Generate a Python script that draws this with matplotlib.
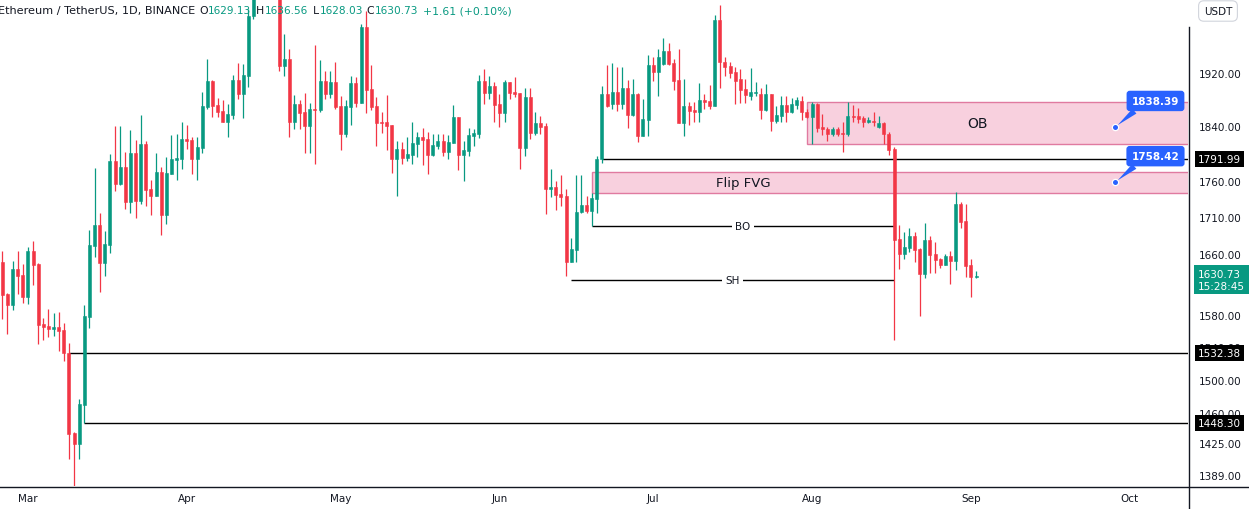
import numpy as np
import pandas as pd
import matplotlib
matplotlib.use("Agg")
import matplotlib.pyplot as plt
from matplotlib.patches import Rectangle
from matplotlib.lines import Line2D
from matplotlib.ticker import NullLocator
from matplotlib.transforms import blended_transform_factory, offset_copy

W, H = 1249, 510
UP = "#089981"
DOWN = "#f23645"
TXT = "#131722"
BLUE = "#2962ff"

# daily candles, ETH/USDT 1D
dates = pd.date_range("2023-02-24", periods=191, freq="D")

opens = [1649.0, 1607.1, 1592.9, 1639.8, 1632.2, 1603.6, 1663.7, 1646.4, 1568.8, 1566.2,
         1562.4, 1564.9, 1561.2, 1532.4, 1436.9, 1424.6, 1470.1, 1578.0, 1670.8, 1698.9,
         1648.1, 1672.1, 1788.7, 1756.4, 1780.1, 1731.1, 1800.3, 1732.5, 1813.4, 1748.8,
         1739.5, 1772.9, 1713.0, 1770.5, 1790.6, 1791.6, 1820.7, 1819.2, 1791.6, 1807.5,
         1868.2, 1907.7, 1871.2, 1862.2, 1845.8, 1856.2, 1909.3, 1887.9, 1915.4, 2010.2,
         2095.0, 2092.0, 2120.0, 2075.0, 2100.0, 1931.3, 1941.8, 1845.8, 1872.7, 1860.7,
         1839.9, 1865.7, 1863.7, 1907.7, 1887.9, 1906.2, 1869.7, 1828.0, 1868.2, 1904.7,
         1874.2, 1992.5, 1895.5, 1869.7, 1845.8, 1845.8, 1840.6, 1791.6, 1806.1, 1793.0,
         1797.4, 1813.4, 1823.6, 1820.7, 1797.4, 1810.5, 1817.8, 1801.7, 1814.8, 1853.2,
         1797.4, 1803.2, 1825.1, 1828.0, 1907.7, 1889.4, 1900.1, 1872.7, 1859.2, 1906.2,
         1890.9, 1889.4, 1807.5, 1883.3, 1829.5, 1844.3, 1839.9, 1748.8, 1751.7, 1741.8,
         1739.0, 1649.0, 1665.0, 1716.8, 1726.5, 1718.2, 1734.8, 1791.99, 1887.9, 1872.7,
         1890.9, 1872.7, 1897.0, 1856.2, 1887.9, 1825.1, 1848.8, 1932.5, 1921.6, 1934.0,
         1954.4, 1935.6, 1909.3, 1844.3, 1869.7, 1863.7, 1860.7, 1878.8, 1877.3, 1869.7,
         2003.7, 1937.1, 1930.9, 1921.6, 1910.8, 1895.5, 1884.9, 1889.4, 1887.9, 1863.7,
         1887.9, 1847.3, 1854.7, 1871.2, 1860.7, 1871.2, 1877.3, 1860.7, 1853.2, 1872.7,
         1838.4, 1835.4, 1828.0, 1835.4, 1829.5, 1828.0, 1854.7, 1854.7, 1851.7, 1845.8,
         1847.3, 1838.4, 1844.3, 1828.0, 1806.1, 1679.8, 1659.7, 1667.7, 1684.3, 1666.4,
         1633.2, 1678.9, 1659.7, 1653.0, 1645.4, 1657.4, 1650.7, 1727.9, 1704.8, 1645.0,
         1629.13]

highs = [1663.7, 1608.8, 1650.3, 1663.7, 1646.4, 1669.0, 1677.1, 1648.1, 1576.4, 1587.8,
         1582.7, 1583.9, 1570.0, 1544.9, 1438.1, 1476.8, 1592.9, 1692.1, 1778.6, 1715.4,
         1691.1, 1798.8, 1839.9, 1839.9, 1801.7, 1833.9, 1819.2, 1856.2, 1817.8, 1761.6,
         1800.3, 1780.1, 1794.5, 1826.6, 1828.0, 1845.8, 1841.3, 1823.6, 1823.6, 1890.9,
         1941.8, 1909.3, 1881.8, 1878.8, 1872.7, 1916.9, 1935.6, 1934.0, 2021.6, 2125.0,
         2110.0, 2141.0, 2128.0, 2112.0, 2105.0, 1981.3, 1957.5, 1886.4, 1878.8, 1889.4,
         1874.2, 1963.8, 1940.2, 1923.2, 1923.2, 1937.1, 1884.9, 1878.8, 1915.6, 1914.0,
         1997.4, 2018.3, 1932.5, 1883.3, 1860.7, 1886.4, 1841.3, 1817.8, 1816.3, 1823.6,
         1845.8, 1831.0, 1836.9, 1831.0, 1828.0, 1828.0, 1828.0, 1826.6, 1871.2, 1853.2,
         1817.8, 1836.9, 1835.4, 1916.9, 1926.2, 1915.6, 1906.2, 1887.9, 1909.3, 1906.2,
         1914.0, 1889.4, 1897.0, 1897.0, 1860.7, 1854.7, 1844.3, 1777.2, 1760.2, 1768.7,
         1748.8, 1681.2, 1768.7, 1768.7, 1739.0, 1743.2, 1795.9, 1900.1, 1932.5, 1935.6,
         1929.3, 1929.3, 1909.3, 1910.8, 1889.4, 1880.3, 1948.1, 1945.0, 1957.5, 1975.0,
         1967.0, 1941.8, 1957.5, 1910.8, 1875.8, 1875.8, 1904.7, 1887.9, 1901.6, 2011.8,
         2028.1, 1945.0, 1937.1, 1929.3, 1926.2, 1910.8, 1927.8, 1906.2, 1897.0, 1903.1,
         1887.9, 1869.7, 1884.9, 1884.9, 1881.8, 1883.3, 1884.9, 1865.2, 1875.8, 1874.2,
         1857.7, 1838.4, 1838.4, 1838.4, 1845.8, 1875.8, 1871.2, 1866.7, 1854.7, 1853.2,
         1860.7, 1854.7, 1845.8, 1831.0, 1809.0, 1698.9, 1689.3, 1694.8, 1689.3, 1668.1,
         1701.6, 1683.9, 1675.8, 1654.3, 1659.7, 1664.1, 1744.6, 1730.7, 1727.9, 1653.0,
         1636.56]

lows = [1575.5, 1556.5, 1586.9, 1607.1, 1595.5, 1594.2, 1618.8, 1543.7, 1549.0, 1552.8,
        1554.0, 1535.4, 1523.1, 1407.5, 1368.0, 1407.5, 1448.3, 1564.1, 1655.3, 1610.1,
        1630.9, 1661.0, 1746.5, 1754.5, 1720.9, 1715.8, 1708.9, 1728.3, 1725.4, 1713.0,
        1738.3, 1685.7, 1700.7, 1770.1, 1762.0, 1777.2, 1806.1, 1770.1, 1761.6, 1800.3,
        1865.2, 1853.2, 1853.2, 1845.8, 1823.6, 1850.2, 1880.3, 1851.7, 1898.5, 2005.0,
        2062.0, 2085.0, 2060.0, 2064.0, 1922.7, 1915.0, 1823.6, 1835.4, 1835.4, 1800.3,
        1800.3, 1784.4, 1860.7, 1880.3, 1881.8, 1865.2, 1804.6, 1823.6, 1841.3, 1868.2,
        1874.2, 1859.2, 1863.7, 1810.5, 1829.5, 1804.6, 1771.5, 1739.0, 1784.4, 1788.7,
        1784.4, 1794.5, 1782.9, 1770.1, 1795.9, 1806.1, 1795.9, 1791.6, 1814.8, 1775.8,
        1760.2, 1795.9, 1810.5, 1822.1, 1872.7, 1880.3, 1845.8, 1838.4, 1845.8, 1880.3,
        1883.3, 1777.2, 1795.9, 1820.7, 1826.6, 1828.0, 1714.0, 1737.6, 1719.5, 1725.1,
        1630.9, 1649.0, 1649.0, 1715.4, 1715.4, 1697.5, 1715.4, 1785.8, 1868.2, 1865.2,
        1862.2, 1865.2, 1836.9, 1854.7, 1816.3, 1825.1, 1825.1, 1907.7, 1884.9, 1932.5,
        1932.5, 1893.9, 1844.3, 1825.1, 1841.3, 1845.8, 1845.8, 1865.2, 1865.2, 1869.7,
        1897.0, 1915.4, 1912.3, 1872.7, 1874.2, 1874.2, 1878.8, 1884.9, 1850.2, 1862.2,
        1832.4, 1844.3, 1845.8, 1845.8, 1859.2, 1865.2, 1848.8, 1851.7, 1813.4, 1831.0,
        1826.6, 1817.8, 1825.1, 1825.1, 1801.7, 1825.1, 1845.8, 1844.3, 1838.4, 1844.3,
        1839.9, 1836.9, 1813.4, 1797.4, 1549.0, 1639.8, 1653.0, 1662.4, 1649.4, 1578.3,
        1627.9, 1634.5, 1634.5, 1641.5, 1645.0, 1620.1, 1638.8, 1694.8, 1629.2, 1603.6,
        1628.03]

closes = [1606.2, 1592.9, 1639.8, 1630.9, 1603.6, 1663.7, 1645.0, 1567.9, 1565.4, 1562.4,
          1564.9, 1559.9, 1532.4, 1436.1, 1424.6, 1470.9, 1578.5, 1671.7, 1698.9, 1648.1,
          1673.1, 1788.7, 1756.4, 1780.1, 1731.1, 1800.3, 1732.5, 1813.4, 1747.9, 1739.5,
          1772.9, 1713.0, 1771.5, 1791.6, 1793.1, 1820.7, 1817.8, 1791.6, 1809.0, 1869.7,
          1907.7, 1869.7, 1860.7, 1845.8, 1857.7, 1909.3, 1887.9, 1916.9, 2010.2, 2095.0,
          2092.0, 2120.0, 2075.0, 2100.0, 1931.3, 1941.8, 1845.8, 1872.7, 1859.2, 1839.9,
          1865.2, 1864.1, 1907.7, 1887.9, 1906.2, 1868.2, 1828.0, 1869.7, 1904.7, 1874.2,
          1992.5, 1893.9, 1868.2, 1844.3, 1844.3, 1839.2, 1791.6, 1806.1, 1793.0, 1798.8,
          1814.8, 1823.6, 1819.2, 1797.4, 1811.9, 1817.8, 1801.7, 1816.3, 1853.2, 1797.4,
          1804.6, 1826.6, 1829.5, 1907.7, 1889.4, 1900.1, 1871.2, 1859.2, 1906.2, 1889.4,
          1887.9, 1807.5, 1883.3, 1829.5, 1844.3, 1838.4, 1748.8, 1751.7, 1739.8, 1737.6,
          1649.0, 1666.4, 1716.8, 1726.5, 1718.2, 1736.2, 1791.99, 1887.9, 1869.7, 1890.9,
          1872.7, 1897.0, 1856.2, 1887.9, 1825.1, 1850.2, 1932.5, 1921.6, 1945.0, 1954.4,
          1934.0, 1907.7, 1844.3, 1869.7, 1862.2, 1860.7, 1878.8, 1875.8, 1869.7, 2003.7,
          1937.1, 1929.3, 1920.0, 1907.7, 1893.9, 1886.4, 1890.9, 1890.9, 1863.7, 1887.9,
          1847.3, 1856.2, 1871.2, 1860.7, 1872.7, 1878.8, 1860.7, 1853.2, 1872.7, 1836.9,
          1835.4, 1828.0, 1835.4, 1828.0, 1828.0, 1854.7, 1853.2, 1850.2, 1845.8, 1848.8,
          1845.8, 1844.3, 1828.0, 1804.6, 1678.5, 1659.7, 1669.0, 1684.3, 1665.4, 1633.2,
          1678.9, 1658.8, 1652.1, 1645.4, 1657.4, 1650.7, 1727.9, 1703.4, 1644.1, 1629.12,
          1630.73]

# drawings
ob_zone = (1813.3, 1875.7)
fvg_zone = (1743.2, 1772.9)
h_levels = [1791.99, 1532.38, 1448.30]
h_starts = [117, 13, 16]
bo_level, sh_level = 1697.5, 1625.3
notes = [1838.39, 1758.42]
y_ticks = [1389, 1425, 1460, 1500, 1540, 1580, 1660, 1710, 1760, 1840, 1920]

fig = plt.figure(figsize=(W / 100, H / 100), dpi=100)
fig.patch.set_facecolor("white")
ax = fig.add_axes([0, 23 / H, 1188 / W, 487 / H])
ax.set_yscale("log")
for s in ax.spines.values():
    s.set_visible(False)

x = np.arange(len(dates))
o = np.array(opens)
c = np.array(closes)
colors = np.where(c >= o, UP, DOWN)
ax.vlines(x, lows, highs, colors=colors, linewidth=0.9, zorder=4)
ax.bar(x, np.abs(c - o), bottom=np.minimum(o, c), width=0.6, color=colors,
       edgecolor=colors, linewidth=0.4, zorder=5)

ax.set_xlim(-0.45, 231.35)
ax.set_ylim(1376.8, 2037.9)

# zones
ax.add_patch(Rectangle((157, ob_zone[0]), 200, ob_zone[1] - ob_zone[0],
                       fc="#f8d0de", ec="#e07aa0", lw=1, zorder=2))
ax.add_patch(Rectangle((115, fvg_zone[0]), 200, fvg_zone[1] - fvg_zone[0],
                       fc="#f8d0de", ec="#e07aa0", lw=1, zorder=2))
ax.text(190.2, np.sqrt(ob_zone[0] * ob_zone[1]), "OB", fontsize=10, color=TXT,
        ha="center", va="center", zorder=3)
ax.text(144.5, np.sqrt(fvg_zone[0] * fvg_zone[1]), "Flip FVG", fontsize=9.5, color=TXT,
        ha="center", va="center", zorder=3)

# horizontal levels
for lvl, st in zip(h_levels, h_starts):
    ax.hlines(lvl, st, 240, color="black", lw=1, zorder=3)
ax.hlines(bo_level, 115, 174, color="black", lw=1, zorder=3)
ax.hlines(sh_level, 111, 174, color="black", lw=1, zorder=3)
ax.text(144.5, bo_level, "BO", fontsize=7.5, color=TXT, ha="center", va="center", zorder=3,
        bbox=dict(boxstyle="square,pad=0.3", fc="white", ec="none"))
ax.text(142.5, sh_level, "SH", fontsize=7.5, color=TXT, ha="center", va="center", zorder=3,
        bbox=dict(boxstyle="square,pad=0.3", fc="white", ec="none"))

# price notes
for p in notes:
    ax.plot([217.2], [p], "o", ms=4.5, mfc=BLUE, mec="white", mew=0.9, zorder=9)
    ax.annotate(f"{p:.2f}", xy=(217.2, p), xytext=(40, 26), textcoords="offset pixels",
                ha="center", va="center", color="white", fontsize=7.5, fontweight="bold",
                bbox=dict(boxstyle="round,pad=0.5,rounding_size=0.3", fc=BLUE, ec="none"),
                arrowprops=dict(arrowstyle="wedge,tail_width=0.6,shrink_factor=0.5",
                                fc=BLUE, ec="none", relpos=(0.2, 0.05),
                                shrinkA=0, shrinkB=2),
                zorder=8)

# axes ticks
month_pos = [i for i, d in enumerate(dates) if d.day == 1] + [len(dates) - 2 + 31]
month_lab = [dates[i].strftime("%b") for i in month_pos[:-1]] + ["Oct"]
ax.set_xticks(month_pos)
ax.set_xticklabels(month_lab)
ax.tick_params(axis="x", length=0, pad=5, labelsize=7.5, labelcolor=TXT)

ax.yaxis.tick_right()
ax.set_yticks(y_ticks)
ax.set_yticklabels([f"{t:.2f}" for t in y_ticks])
ax.yaxis.set_minor_locator(NullLocator())
ax.tick_params(axis="y", length=0, pad=8, labelsize=7.5, labelcolor=TXT)

# frame lines
fig.add_artist(Line2D([0, 1], [1 - 487.5 / H] * 2, color=TXT, lw=1))
fig.add_artist(Line2D([1188.5 / W] * 2, [0, 1 - 28 / H], color=TXT, lw=1))

# price scale labels
bt = blended_transform_factory(fig.transFigure, ax.transData)
for lvl in h_levels:
    fig.text(1198 / W, lvl, f"{lvl:.2f}", transform=bt, color="white", fontsize=7.5,
             ha="left", va="center",
             bbox=dict(boxstyle="square,pad=0.3", fc="black", ec="none"))
fig.text(1198 / W, closes[-1], f"{closes[-1]:.2f}\n15:28:45",
         transform=offset_copy(bt, fig=fig, x=0, y=7, units="dots"),
         color="white", fontsize=7.5, ha="left", va="top", linespacing=1.25,
         bbox=dict(boxstyle="square,pad=0.35", fc=UP, ec="none"))

fig.text(1218 / W, 1 - 12 / H, "USDT", fontsize=7.5, color=TXT, ha="center", va="center",
         bbox=dict(boxstyle="round,pad=0.5,rounding_size=0.5", fc="white", ec="#d1d4dc", lw=0.8))

# legend line
yh = 1 - 11 / H
fig.text(195 / W, yh, "Ethereum / TetherUS, 1D, BINANCE", fontsize=8.1, color=TXT,
         ha="right", va="center")
ohlc = [("O", opens[-1], 199, 9), ("H", highs[-1], 256, 8.5),
        ("L", lows[-1], 313, 6.5), ("C", closes[-1], 366, 8.5)]
for lab, v, px, w in ohlc:
    fig.text(px / W, yh, lab, fontsize=7.8, color=TXT, ha="left", va="center")
    fig.text((px + w) / W, yh, f"{v:.2f}", fontsize=7.6, color=UP, ha="left", va="center")
chg = closes[-1] - closes[-2]
fig.text(423 / W, yh, f"+{chg:.2f} (+{chg / closes[-2] * 100:.2f}%)", fontsize=7.8,
         color=UP, ha="left", va="center")

fig.savefig("out.png", dpi=100, facecolor="white")
